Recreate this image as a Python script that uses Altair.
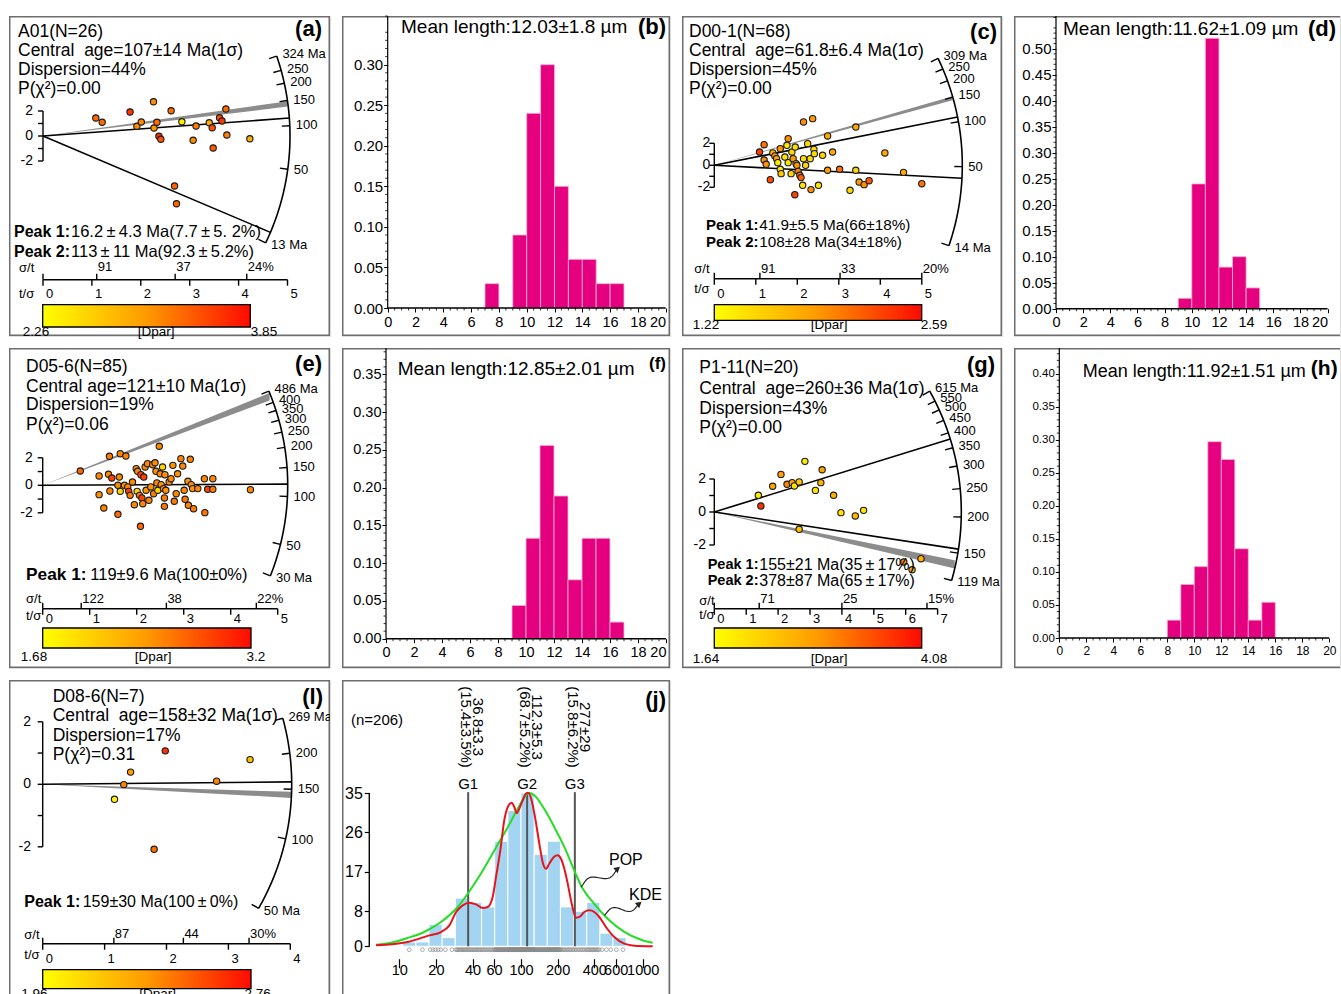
import math
import pandas as pd
import altair as alt

FONT = "Liberation Sans"
BORDER = "#6e6e6e"
ONE = pd.DataFrame({"k": [0]})
CB_RANGE = ["#ffff00", "#ff9a00", "#ff0a00"]
MAGENTA = "#e4007f"
J_BLUE = "#a3d5f2"
TS = "\u2009"   # thin space used around the wide "±" glyphs of the original
NB = "\u00a0"

# ---------------- radial plot data (x = t/sigma, z = standardised estimate, Dpar) -------------
A_X = [1.08, 1.21, 1.78, 2.26, 2.62, 1.92, 2.01, 2.27, 2.33, 2.37, 2.41, 2.84, 3.13, 3.07, 3.40, 3.46,
       3.61, 3.66, 3.74, 3.76, 3.48, 4.23, 2.69, 2.73]
A_Z = [1.44, 1.10, 1.92, 2.74, 2.02, 0.78, 1.12, 0.64, 1.10, -0.02, -0.26, 1.14, 0.80, -0.34, 1.06, 0.66,
       1.46, 1.20, 2.16, 0.08, -0.96, -0.22, -4.0, -5.42]
A_D = [3.45, 3.45, 3.75, 3.15, 3.45, 3.2, 3.2, 3.1, 3.45, 3.75, 3.6, 2.4, 3.3, 3.2, 2.9, 3.6,
       3.6, 3.75, 3.45, 3.3, 3.55, 2.9, 3.5, 3.5]

C_X = [1.09, 1.20, 1.20, 1.25, 1.35, 1.41, 1.46, 1.50, 1.53, 1.59, 1.59, 1.61, 1.70, 1.75, 1.78, 1.78,
       1.85, 1.87, 1.90, 1.95, 1.97, 1.99, 2.02, 2.06, 2.09, 1.94, 2.13, 2.15, 2.15, 2.20, 2.25, 2.31,
       2.33, 2.37, 2.40, 2.41, 2.51, 2.61, 2.73, 2.73, 2.85, 3.02, 3.27, 3.41, 3.41, 3.49, 3.61, 3.73,
       4.11, 4.56, 5.00]
C_Z = [1.21, 1.87, 0.48, 0.09, -1.31, 1.12, 0.85, 0.60, 0.24, 1.51, -0.36, -0.76, 0.75, 1.82, 2.42, 0.24,
       -0.76, 1.21, 0.60, 1.66, 0.15, 0.00, -0.55, -0.91, -1.12, -2.67, -1.82, 3.94, 0.60, 0.00, 1.97, 0.60,
       -2.21, 4.24, 1.45, 1.06, -1.82, 0.91, 2.67, -0.45, 1.21, -0.36, -2.27, 3.48, -0.45, -1.52, -1.76,
       -1.40, 1.12, -0.64, -1.67]
C_D = [2.48, 2.2, 1.97, 1.97, 2.4, 1.7, 1.97, 1.9, 1.36, 1.97, 1.36, 1.6, 1.4, 1.4, 2.0, 1.4,
       1.5, 1.45, 1.9, 1.45, 1.4, 1.97, 2.05, 2.2, 2.3, 2.45, 1.4, 2.0, 1.45, 1.5, 1.5, 1.45,
       2.0, 1.9, 1.45, 1.5, 1.4, 1.5, 1.8, 1.9, 1.8, 2.2, 1.45, 1.8, 1.5, 1.9, 2.0, 2.35,
       1.8, 1.8, 2.2]

E_X = [0.80, 1.20, 1.20, 1.30, 1.42, 1.40, 1.43, 1.47, 1.60, 1.63, 1.60, 1.65, 1.77, 1.65, 1.74, 1.81,
       1.83, 1.86, 1.91, 1.95, 1.99, 2.01, 2.02, 2.06, 2.08, 2.09, 2.11, 2.13, 2.15, 2.18, 2.20, 2.23,
       2.26, 2.30, 2.34, 2.36, 2.39, 2.41, 2.43, 2.45, 2.48, 2.50, 2.52, 2.55, 2.57, 2.59, 2.60, 2.62,
       2.59, 2.69, 2.73, 2.77, 2.80, 2.84, 2.87, 2.94, 2.98, 3.01, 3.03, 3.09, 3.10, 3.14, 3.16, 3.19,
       3.21, 3.30, 3.44, 3.45, 3.51, 3.62, 3.62, 4.42]
E_Z = [1.04, 0.68, -0.68, -1.65, 2.11, 0.80, -0.41, 0.53, -2.11, 0.60, 0.00, 2.30, 2.13, -0.44, 0.00, -0.12,
       -0.44, -0.73, 0.24, -1.41, 1.21, -0.44, 1.02, -0.73, -2.98, 0.77, -0.92, -1.34, 0.60, 1.33, -0.36, 1.57,
       -1.09, -0.12, 1.50, -0.61, 1.64, 1.02, 0.17, -0.36, 2.84, 0.84, 0.05, 1.33, -0.24, -0.92, 0.77, -0.36,
       -1.53, 0.24, 0.48, 1.45, -1.16, -0.61, 0.84, 1.94, 1.40, -0.36, -1.02, 0.29, -1.45, 1.89, 0.05, -0.24,
       -1.70, -0.24, 0.48, -1.99, -0.29, 0.48, -0.29, -0.32]
E_D = [2.85, 2.6, 2.55, 2.6, 2.7, 2.55, 2.65, 3.05, 2.8, 2.6, 2.55, 2.65, 2.6, 2.0, 2.5, 2.6,
       3.05, 2.7, 2.55, 2.6, 2.5, 2.0, 2.6, 2.7, 2.85, 3.05, 3.05, 2.6, 3.05, 2.55, 2.5, 2.6,
       2.65, 2.5, 2.6, 2.7, 2.55, 2.5, 2.6, 2.0, 2.6, 2.55, 2.5, 2.0, 2.6, 2.7, 2.55, 2.5,
       2.75, 2.6, 2.55, 2.5, 2.7, 2.6, 2.5, 2.65, 2.6, 2.55, 2.7, 2.5, 2.6, 2.65, 2.55, 2.5,
       2.7, 2.6, 2.6, 2.75, 3.05, 2.6, 2.7, 2.6]

G_X = [1.38, 1.46, 1.83, 2.09, 2.28, 2.44, 2.51, 2.66, 2.66, 2.84, 3.17, 3.34, 3.38, 3.74, 3.97, 4.42,
       4.68, 5.94, 6.20, 6.48]
G_Z = [1.01, 0.36, 1.56, 2.28, 1.68, 1.78, 1.58, 1.82, -1.05, 3.07, 1.31, 1.78, 2.56, 1.01, -0.04, -0.24,
       0.10, -3.03, -3.50, -2.83]
G_D = [1.9, 3.95, 2.7, 2.8, 3.1, 2.7, 2.0, 2.3, 2.4, 1.95, 2.0, 2.6, 2.7, 2.6, 2.0, 2.5,
       1.95, 3.0, 2.6, 2.6]

L_X = [1.16, 1.31, 1.42, 1.80, 1.98, 2.81, 3.35]
L_Z = [-0.48, -0.01, 0.39, -2.08, 1.07, 0.10, 0.79]
L_D = [2.02, 2.45, 2.35, 2.55, 2.72, 2.45, 2.2]

# ---------------- track length histograms (bin lower edge, frequency) ----------------
B_LO = [7, 9, 10, 11, 12, 13, 14, 15, 16]
B_F = [0.03, 0.09, 0.24, 0.30, 0.15, 0.06, 0.06, 0.03, 0.03]
D_LO = [9, 10, 11, 12, 13, 14]
D_F = [0.02, 0.24, 0.52, 0.08, 0.10, 0.04]
F_LO = [9, 10, 11, 12, 13, 14, 15, 16]
F_F = [0.044, 0.133, 0.256, 0.189, 0.078, 0.133, 0.133, 0.022]
H_LO = [8, 9, 10, 11, 12, 13, 14, 15]
H_F = [0.027, 0.081, 0.108, 0.297, 0.270, 0.135, 0.027, 0.054]
X_TICKS = [0, 2, 4, 6, 8, 10, 12, 14, 16, 18, 20]

# ---------------- (j) age distribution ----------------
J_START = 1.028   # log10 of first bin edge (Ma)
J_BINW = 0.108    # bin width in log10 units
J_COUNTS = [1, 1, 5, 2, 11, 10, 9, 24, 31, 35, 21, 24, 9, 8, 10, 3, 2]
POP_AGE = [6.44, 8.55, 11.7, 16.0, 22.0, 30.2, 36.5, 46.9, 60.4, 77.8, 94.0, 110, 117, 128.5, 155, 188,
           227, 274, 311, 400, 515, 706, 968, 1208]
POP_N = [0.37, 0.83, 1.9, 3.27, 5.55, 8.97, 12.0, 16.6, 21.9, 27.2, 31.4, 34.5, 35.0, 34.5, 31.4, 27.2,
         22.7, 17.3, 13.9, 9.7, 6.3, 3.3, 1.5, 0.83]
KDE_AGE = [6.44, 11.7, 17.7, 22.0, 25.8, 29.3, 33.2, 37.6, 42.7, 48.4, 53.2, 58.5, 62.3, 67.6, 72.9, 79.2,
           83.8, 88.1, 92.1, 96.9, 103.2, 110, 115.6, 122.3, 130.4, 141.5, 150.7, 160.4, 171, 188, 200, 213,
           227, 242, 261, 283, 307, 331, 364, 400, 440, 499, 584, 706, 853, 1208]
KDE_N = [0.22, 0.98, 2.5, 3.26, 4.79, 7.83, 9.35, 9.96, 9.58, 8.74, 8.97, 11.26, 15.8, 21.9, 28.8, 32.2,
         32.8, 31.8, 30.4, 31.4, 33.3, 34.85, 35.0, 33.3, 29.5, 23.4, 19.2, 17.7, 18.9, 20.5, 20.8, 20.0,
         17.7, 14.3, 9.73, 6.54, 6.84, 7.83, 8.21, 7.83, 6.69, 4.41, 2.12, 0.6, 0.14, 0.0]
J_PEAKS = [36.8, 112.3, 277]
J_PEAK_TXT = [("36.8±3.3", "(15.4±3.5%)"), ("112.3±5.3", "(68.7±5.2%)"), ("277±29", "(15.8±6.2%)")]
J_XTICKS = [10, 20, 40, 60, 100, 200, 400, 600, 1000]
J_YTICKS = [0, 8, 17, 26, 35]


def txt(s, x, y, fs, weight="normal", align="left", angle=0, clip=False, color="black"):
    kw = dict(text=s, fontSize=fs, fontWeight=weight, align=align, baseline="middle", font=FONT, color=color)
    if angle:
        kw["angle"] = angle
    if clip:
        kw["clip"] = True
    return alt.Chart(ONE).mark_text(**kw).encode(x=alt.value(x), y=alt.value(y))


def border(W, H, open_right=False, open_bottom=False):
    x2 = W + 8 if open_right else W - 0.75
    y2 = H + 8 if open_bottom else H - 0.75
    return alt.Chart(ONE).mark_rect(fill="transparent", stroke=BORDER, strokeWidth=1.5, clip=True).encode(
        x=alt.value(0.75), x2=alt.value(x2), y=alt.value(0.75), y2=alt.value(y2))


def radial(c):
    W, H = c["W"], c["H"]
    ox, oy = c["origin"]
    kx, ky, t0, R = c["kx"], c["ky"], c["t0"], c["R"]
    clip = c.get("clip", False)
    mk = {"clip": True} if clip else {}
    dx = lambda px: (px - ox) / kx
    dy = lambda py: (oy - py) / ky
    xs = alt.Scale(domain=[dx(0), dx(W)], nice=False, zero=False)
    ys = alt.Scale(domain=[dy(H), dy(0)], nice=False, zero=False)
    X = lambda f="x": alt.X(f + ":Q", scale=xs, axis=None)
    Y = lambda f="y": alt.Y(f + ":Q", scale=ys, axis=None)
    X2 = alt.X2("x2:Q")
    Y2 = alt.Y2("y2:Q")

    def ang(t):
        return math.atan2(math.log(t / t0) * ky, kx)

    def pt(a, r):
        return r * math.cos(a) / kx, r * math.sin(a) / ky

    layers = [border(W, H, False, c.get("open_bottom", False))]

    # grey wedge
    b1, b2 = c["band"]
    xe = min(pt(ang(b1), R)[0], pt(ang(b2), R)[0])
    band = pd.DataFrame({"x": [0.0, xe], "y": [0.0, math.log(b1 / t0) * xe], "y2": [0.0, math.log(b2 / t0) * xe]})
    layers.append(alt.Chart(band).mark_area(color="#8c8c8c", opacity=1, **mk).encode(x=X(), y=Y(), y2=Y2))

    # peak rays
    rows = []
    for i, t in enumerate(c["rays"]):
        ex, ey = pt(ang(t), R)
        rows += [{"id": i, "x": 0.0, "y": 0.0}, {"id": i, "x": ex, "y": ey}]
    layers.append(alt.Chart(pd.DataFrame(rows)).mark_line(color="black", strokeWidth=1.6, **mk).encode(
        x=X(), y=Y(), detail="id:N"))

    # arc
    a0, a1 = ang(c["arc"][0]), ang(c["arc"][1])
    n = 90
    arc = []
    for k in range(n):
        px_, py_ = pt(a0 + (a1 - a0) * k / (n - 1), R)
        arc.append({"i": k, "x": px_, "y": py_})
    layers.append(alt.Chart(pd.DataFrame(arc)).mark_line(color="black", strokeWidth=1.6, **mk).encode(
        x=X(), y=Y(), order="i:Q"))

    # arc ticks and labels
    tk = []
    for t in c["ticks"]:
        a = ang(t)
        x1, y1 = pt(a, R - 8)
        x2, y2 = pt(a, R)
        lx, ly = pt(a, R + 6)
        lab = f"{t} Ma" if t in c["arc"] else str(t)
        tk.append({"x": x1, "y": y1, "x2": x2, "y2": y2, "lx": lx, "ly": ly, "t": lab})
    tdf = pd.DataFrame(tk)
    layers.append(alt.Chart(tdf).mark_rule(color="black", strokeWidth=1.4, **mk).encode(
        x=X(), y=Y(), x2=X2, y2=Y2))
    layers.append(alt.Chart(tdf).mark_text(align="left", baseline="middle", fontSize=13, font=FONT, **mk).encode(
        x=X("lx"), y=Y("ly"), text="t:N"))

    # z bracket
    layers.append(alt.Chart(pd.DataFrame({"x": [0.0], "y": [-2.0], "y2": [2.0]})).mark_rule(
        color="black", strokeWidth=1.4, **mk).encode(x=X(), y=Y(), y2=Y2))
    layers.append(alt.Chart(pd.DataFrame({"x": [0.0] * 5, "x2": [-5 / kx] * 5, "y": [-2, -1, 0, 1, 2]})).mark_rule(
        color="black", strokeWidth=1.4, **mk).encode(x=X(), x2=X2, y=Y()))
    layers.append(alt.Chart(pd.DataFrame({"x": [dx(c["brk_x"])] * 3, "y": [2, 0, -2], "t": ["2", "0", "-2"]})).mark_text(
        align="right", baseline="middle", fontSize=14, font=FONT, **mk).encode(x=X(), y=Y(), text="t:N"))

    # precision scale (t/sigma below, sigma/t above)
    za = dy(c["za"])
    tmax = c["tmax"]
    layers.append(alt.Chart(pd.DataFrame({"x": [0.0], "x2": [float(tmax)], "y": [za]})).mark_rule(
        color="black", strokeWidth=1.6, **mk).encode(x=X(), x2=X2, y=Y()))
    tv = list(range(tmax + 1))
    layers.append(alt.Chart(pd.DataFrame({"x": tv, "y": [za] * len(tv), "y2": [za - 6 / ky] * len(tv)})).mark_rule(
        color="black", strokeWidth=1.4, **mk).encode(x=X(), y=Y(), y2=Y2))
    sv = [0.0] + [100.0 / p for p in c["sig"]]
    layers.append(alt.Chart(pd.DataFrame({"x": sv, "y": [za] * len(sv), "y2": [za + 6 / ky] * len(sv)})).mark_rule(
        color="black", strokeWidth=1.4, **mk).encode(x=X(), y=Y(), y2=Y2))
    layers.append(alt.Chart(pd.DataFrame({"x": [v + 3 / kx for v in tv], "y": [dy(c["lab_t_y"])] * len(tv),
                                          "t": [str(v) for v in tv]})).mark_text(
        align="left", baseline="middle", fontSize=13, font=FONT, **mk).encode(x=X(), y=Y(), text="t:N"))
    slab = [str(p) for p in c["sig"]]
    slab[-1] = slab[-1] + "%"
    layers.append(alt.Chart(pd.DataFrame({"x": [100.0 / p + 1 / kx for p in c["sig"]],
                                          "y": [dy(c["lab_s_y"])] * len(slab), "t": slab})).mark_text(
        align="left", baseline="middle", fontSize=13, font=FONT, **mk).encode(x=X(), y=Y(), text="t:N"))
    layers.append(txt("σ/t", c["name_x"], c["name_s_y"], 13, clip=clip))
    layers.append(txt("t/σ", c["name_x"], c["name_t_y"], 13, clip=clip))

    # Dpar colour bar
    x0, y0, x1, y1 = c["cbar"]
    grad = alt.Gradient(gradient="linear",
                        stops=[alt.GradientStop(color=CB_RANGE[0], offset=0),
                               alt.GradientStop(color=CB_RANGE[1], offset=0.5),
                               alt.GradientStop(color=CB_RANGE[2], offset=1)],
                        x1=0, x2=1, y1=0, y2=0)
    layers.append(alt.Chart(ONE).mark_rect(fill=grad, stroke="black", strokeWidth=1.3, **mk).encode(
        x=alt.value(x0), x2=alt.value(x1), y=alt.value(y0), y2=alt.value(y1)))
    for lx, s in c["cbar_lab"]:
        layers.append(txt(s, lx, c["cbar_lab_y"], 13.5, align="center", clip=clip))

    # grains
    px_, pz_, pd_ = c["pts"]
    d0, d1 = c["dom"]
    pdf = pd.DataFrame({"x": px_, "y": pz_, "d": pd_})
    layers.append(alt.Chart(pdf).mark_point(filled=True, shape="circle", size=40, stroke="#1a1a1a",
                                            strokeWidth=1.1, opacity=1, **mk).encode(
        x=X(), y=Y(),
        fill=alt.Fill("d:Q", scale=alt.Scale(domain=[d0, (d0 + d1) / 2, d1], range=CB_RANGE), legend=None)))

    # texts
    for s, yy in zip(c["head"], c["head_y"]):
        layers.append(txt(s, c["head_x"], yy, c["head_fs"], clip=clip))
    lxp, lyp = c["letter_xy"]
    layers.append(txt(c["letter"], lxp, lyp, c["letter_fs"], weight="bold", align="right", clip=clip))
    for (b, s), yy in zip(c["peaks"], c["peak_y"]):
        layers.append(txt(b, c["peak_x"], yy, c["peak_fs"], weight="bold", clip=clip))
        layers.append(txt(s, c["peak_x2"], yy, c.get("peak_fs2", c["peak_fs"]), clip=clip))
    return alt.layer(*layers).properties(width=W, height=H)


def hist(c):
    W, H, ox, oy, kx, ky = c["W"], c["H"], c["ox"], c["oy"], c["kx"], c["ky"]
    dx = lambda px: (px - ox) / kx
    dy = lambda py: (oy - py) / ky
    xs = alt.Scale(domain=[dx(0), dx(W)], nice=False, zero=False)
    ys = alt.Scale(domain=[dy(H), dy(0)], nice=False, zero=False)
    ax_x = alt.Axis(values=X_TICKS, format="d", orient="bottom", offset=-(H - oy), domain=False, grid=False,
                    tickSize=4, tickColor="black", labelFontSize=c["xfs"], labelPadding=3, labelOverlap=False,
                    labelFlush=c["flush"], labelColor="black", labelFont=FONT, title=None)
    ax_y = alt.Axis(values=c["yt"], format=".2f", orient="left", offset=-ox, domain=False, grid=False,
                    tickSize=4, tickColor="black", labelFontSize=c["yfs"], labelPadding=1, labelOverlap=False,
                    labelColor="black", labelFont=FONT, title=None)
    X = lambda f="x": alt.X(f + ":Q", scale=xs, axis=ax_x)
    Y = lambda f="y": alt.Y(f + ":Q", scale=ys, axis=ax_y)
    df = pd.DataFrame({"lo": c["lo"], "hi": [v + 1 for v in c["lo"]], "y0": 0.0, "f": c["f"]})
    bars = alt.Chart(df).mark_rect(color=MAGENTA, stroke="#f6b3d6", strokeWidth=0.8).encode(
        x=X("lo"), x2="hi:Q", y=Y("y0"), y2="f:Q")
    layers = [border(W, H, open_right=c.get("open_right", False)), bars]
    ytop = dy(0)
    layers.append(alt.Chart(pd.DataFrame({"x": [0.0], "x2": [20.0], "y": [0.0]})).mark_rule(
        color="black", strokeWidth=1.4).encode(x=X(), x2=alt.X2("x2:Q"), y=Y()))
    layers.append(alt.Chart(pd.DataFrame({"x": [0.0], "y": [0.0], "y2": [ytop]})).mark_rule(
        color="black", strokeWidth=1.2).encode(x=X(), y=Y(), y2=alt.Y2("y2:Q")))
    ym = [k / 100 for k in range(0, int(ytop * 100) + 1) if k % 5 != 0]
    layers.append(alt.Chart(pd.DataFrame({"x": [0.0] * len(ym), "x2": [-2.5 / kx] * len(ym), "y": ym})).mark_rule(
        color="black", strokeWidth=0.8).encode(x=X(), x2=alt.X2("x2:Q"), y=Y()))
    xm = [k / 2 for k in range(1, 41) if k % 4 != 0]
    layers.append(alt.Chart(pd.DataFrame({"x": xm, "y": [0.0] * len(xm), "y2": [-2.5 / ky] * len(xm)})).mark_rule(
        color="black", strokeWidth=0.8).encode(x=X(), y=Y(), y2=alt.Y2("y2:Q")))
    tx, ty = c["title_xy"]
    layers.append(txt(c["title"], tx, ty, c["title_fs"]))
    lx, ly = c["letter_xy"]
    layers.append(txt(c["letter"], lx, ly, c["letter_fs"], weight="bold", align="right"))
    return alt.layer(*layers).properties(width=W, height=H)


def panel_j(W=328, H=314):
    ox, oy, kx, ky = 57.3, 266.3, 121.7, 4.38
    dxp = lambda px: 10 ** (1 + (px - ox) / kx)
    dyp = lambda py: (oy - py) / ky
    pxa = lambda age: ox + kx * (math.log10(age) - 1)
    xs = alt.Scale(type="log", domain=[dxp(0), dxp(W)], nice=False)
    ys = alt.Scale(domain=[dyp(H), dyp(0)], nice=False, zero=False)
    ax_x = alt.Axis(values=J_XTICKS, format="d", orient="bottom", offset=-(H - 278.7), domain=False, grid=False,
                    tickSize=9, tickColor="black", tickWidth=1.2, labelFontSize=14.5, labelPadding=-4,
                    labelOverlap=False, labelFlush=False, labelColor="black", labelFont=FONT, title=None)
    ax_y = alt.Axis(values=J_YTICKS, format="d", orient="left", offset=-27.3, domain=False, grid=False,
                    tickSize=5, tickColor="black", tickWidth=1.2, labelFontSize=16, labelPadding=2,
                    labelColor="black", labelFont=FONT, title=None)
    X = lambda f="x": alt.X(f + ":Q", scale=xs, axis=ax_x)
    Y = lambda f="y": alt.Y(f + ":Q", scale=ys, axis=ax_y)
    n = len(J_COUNTS)
    lo = [10 ** (J_START + J_BINW * i) for i in range(n)]
    hi = [10 ** (J_START + J_BINW * (i + 1)) for i in range(n)]
    bdf = pd.DataFrame({"lo": lo, "hi": hi, "y0": 0.0, "n": J_COUNTS})
    layers = [border(W, H, open_bottom=True)]
    layers.append(alt.Chart(bdf).mark_rect(color=J_BLUE, stroke="white", strokeWidth=1, clip=True).encode(
        x=X("lo"), x2="hi:Q", y=Y("y0"), y2="n:Q"))
    # y axis line
    layers.append(alt.Chart(pd.DataFrame({"x": [dxp(27.3)], "y": [0.0], "y2": [35.0]})).mark_rule(
        color="black", strokeWidth=1.4).encode(x=X(), y=Y(), y2=alt.Y2("y2:Q")))
    # rug of single grain ages (spread evenly inside each bin)
    rug = []
    for i, cnt in enumerate(J_COUNTS):
        for k in range(cnt):
            rug.append(10 ** (J_START + J_BINW * (i + (k + 0.5) / cnt)))
    layers.append(alt.Chart(pd.DataFrame({"x": rug, "y": [dyp(269.7)] * len(rug)})).mark_point(
        shape="circle", filled=False, size=14, color="#8a8a8a", strokeWidth=0.7, opacity=1, clip=True).encode(
        x=X(), y=Y()))
    # peak lines
    layers.append(alt.Chart(pd.DataFrame({"x": J_PEAKS, "y": [0.0] * 3, "y2": [35.2] * 3})).mark_rule(
        color="#555555", strokeWidth=2).encode(x=X(), y=Y(), y2=alt.Y2("y2:Q")))
    # curves
    layers.append(alt.Chart(pd.DataFrame({"x": POP_AGE, "y": POP_N})).mark_line(
        color="#25dd25", strokeWidth=2, interpolate="monotone", clip=True).encode(x=X(), y=Y()))
    layers.append(alt.Chart(pd.DataFrame({"x": KDE_AGE, "y": KDE_N})).mark_line(
        color="#e8141c", strokeWidth=2, interpolate="monotone", clip=True).encode(x=X(), y=Y()))

    # squiggly arrows
    def squiggle(s, e, amp=5.0, npts=40):
        (sx, sy), (ex, ey) = s, e
        L = math.hypot(ex - sx, ey - sy)
        ux, uy = (ex - sx) / L, (ey - sy) / L
        nx, ny = uy, -ux
        out = []
        for k in range(npts):
            t = k / (npts - 1)
            w = amp * math.sin(2 * math.pi * t) * math.sin(math.pi * t) ** 0.3
            px_ = sx + t * (ex - sx) + nx * w
            py_ = sy + t * (ey - sy) + ny * w
            out.append({"i": k, "x": dxp(px_), "y": dyp(py_)})
        return out
    arrows = [((239, 207), (275.7, 188.7)), ((262.3, 235.3), (297.3, 223.7))]
    for aid, (s, e) in enumerate(arrows):
        layers.append(alt.Chart(pd.DataFrame(squiggle(s, e))).mark_line(color="#222222", strokeWidth=1.2).encode(
            x=X(), y=Y(), order="i:Q"))
    heads = pd.DataFrame({"x": [dxp(e[0]) for _, e in arrows], "y": [dyp(e[1]) for _, e in arrows]})
    layers.append(alt.Chart(heads).mark_point(shape="triangle-up", filled=True, size=45, color="#222222",
                                              angle=50, opacity=1).encode(x=X(), y=Y()))
    # texts
    layers.append(txt("(n=206)", 9, 40.3, 15))
    layers.append(txt("(j)", 324, 20.3, 22, weight="bold", align="right"))
    for age, g, (l1, l2) in zip(J_PEAKS, ["G1", "G2", "G3"], J_PEAK_TXT):
        gx = pxa(age)
        layers.append(txt(g, gx, 104.3, 15, align="center"))
        layers.append(txt(l1, gx + 10, 47, 15, align="center", angle=90))
        layers.append(txt(l2, gx - 2, 47, 15, align="center", angle=90))
    layers.append(txt("POP", 267, 180.3, 16))
    layers.append(txt("KDE", 287, 215.3, 16))
    return alt.layer(*layers).properties(width=W, height=H)


pa = radial(dict(
    W=321, H=320, origin=(34, 120), kx=48.9, ky=12.5, t0=85, R=247, arc=(13, 324),
    ticks=[13, 50, 100, 150, 200, 250, 324], rays=[16.2, 113], band=(136, 148), brk_x=24,
    za=263.7, tmax=5, sig=[91, 37, 24], lab_t_y=278, lab_s_y=251, name_x=10, name_s_y=252, name_t_y=278,
    cbar=(33.7, 288.7, 241.3, 311), cbar_lab=[(27, "2.26"), (147, "[Dpar]"), (255, "3.85")], cbar_lab_y=315.5,
    dom=(2.26, 3.85), head=["A01(N=26)", f"Central{NB} age=107±14 Ma(1σ)", "Dispersion=44%", "P(χ²)=0.00"],
    head_x=9, head_y=[16, 35.3, 54.3, 73.3], head_fs=17.5, letter="(a)", letter_xy=(313, 13), letter_fs=22,
    peaks=[("Peak 1:", f"16.2{TS}±{TS}4.3 Ma(7.7{TS}±{TS}5. 2%)"), ("Peak 2:", f"113{TS}±{TS}11 Ma(92.3{TS}±{TS}5.2%)")],
    peak_x=5, peak_x2=62, peak_y=[216, 236], peak_fs=16, peak_fs2=16.5, pts=(A_X, A_Z, A_D)))

pc = radial(dict(
    W=320, H=320, origin=(32.3, 149.3), kx=41.5, ky=11, t0=51, R=248, arc=(14, 309),
    ticks=[14, 50, 100, 150, 200, 250, 309], rays=[41.9, 108], band=(143, 152), brk_x=28.3,
    za=262.7, tmax=5, sig=[91, 33, 20], lab_t_y=277.7, lab_s_y=252.7, name_x=12.3, name_s_y=252.7,
    name_t_y=272.7, cbar=(32.3, 288.7, 239.7, 304.3), cbar_lab=[(24, "1.22"), (147, "[Dpar]"), (252, "2.59")],
    cbar_lab_y=309.3, dom=(1.22, 2.59),
    head=["D00-1(N=68)", f"Central{NB} age=61.8±6.4 Ma(1σ)", "Dispersion=45%", "P(χ²)=0.00"],
    head_x=7, head_y=[16, 35, 54, 73], head_fs=17.5, letter="(c)", letter_xy=(315, 16), letter_fs=22,
    peaks=[("Peak 1:", "41.9±5.5 Ma(66±18%)"), ("Peak 2:", "108±28 Ma(34±18%)")],
    peak_x=24, peak_x2=77.3, peak_y=[209.3, 226], peak_fs=15, peak_fs2=15.3, pts=(C_X, C_Z, C_D)))

pe = radial(dict(
    W=321, H=320, origin=(33.7, 137.3), kx=47, ky=13.75, t0=117, R=245, arc=(30, 486),
    ticks=[30, 50, 100, 150, 200, 250, 300, 350, 400, 486], rays=[119], band=(420, 470), brk_x=23.7,
    za=260.7, tmax=5, sig=[122, 38, 22], lab_t_y=270.7, lab_s_y=251.3, name_x=17, name_s_y=251.3,
    name_t_y=268, cbar=(33.7, 280, 242, 300), cbar_lab=[(25, "1.68"), (144, "[Dpar]"), (247, "3.2")],
    cbar_lab_y=309, dom=(1.68, 3.2),
    head=["D05-6(N=85)", "Central age=121±10 Ma(1σ)", "Dispersion=19%", "P(χ²)=0.06"],
    head_x=17, head_y=[19, 39, 57.3, 76.7], head_fs=17.5, letter="(e)", letter_xy=(313, 15.7), letter_fs=22,
    peaks=[("Peak 1:", "119±9.6 Ma(100±0%)")], peak_x=17, peak_x2=81.3, peak_y=[227.3], peak_fs=17.3,
    peak_fs2=16.5, pts=(E_X, E_Z, E_D)))

pg = radial(dict(
    W=320, H=320, origin=(32.3, 164), kx=31.9, ky=16.5, t0=208, R=247, arc=(119, 615),
    ticks=[119, 150, 200, 250, 300, 350, 400, 450, 500, 550, 615], rays=[155, 378], band=(132, 141),
    brk_x=24, za=260.7, tmax=7, sig=[71, 25, 15], lab_t_y=270.7, lab_s_y=251.3, name_x=17.3, name_s_y=253,
    name_t_y=267, cbar=(32.3, 280, 239.7, 300), cbar_lab=[(24, "1.64"), (147, "[Dpar]"), (252, "4.08")],
    cbar_lab_y=310.7, dom=(1.64, 4.08),
    head=["P1-11(N=20)", f"Central{NB} age=260±36 Ma(1σ)", "Dispersion=43%", "P(χ²)=0.00"],
    head_x=17.3, head_y=[20, 40.7, 60.7, 80], head_fs=17.5, letter="(g)", letter_xy=(313, 17.3), letter_fs=22,
    peaks=[("Peak 1:", f"155±21 Ma(35{TS}±{TS}17%)"), ("Peak 2:", f"378±87 Ma(65{TS}±{TS}17%)")],
    peak_x=25.7, peak_x2=77.3, peak_y=[217.3, 233.3], peak_fs=14.5, peak_fs2=16, pts=(G_X, G_Z, G_D)))

pl = radial(dict(
    W=321, H=314, origin=(33.7, 104.3), kx=61.9, ky=31.25, t0=156, R=249, arc=(50, 269),
    ticks=[50, 100, 150, 200, 269], rays=[159], band=(140, 147), brk_x=22,
    za=263.7, tmax=4, sig=[87, 44, 30], lab_t_y=278.7, lab_s_y=253.7, name_x=15.3, name_s_y=255,
    name_t_y=275.3, cbar=(33.7, 289.7, 242, 308.7), cbar_lab=[(25.3, "1.96"), (148.7, "[Dpar]"), (248.7, "2.76")],
    cbar_lab_y=313.7, dom=(1.96, 2.76),
    head=["D08-6(N=7)", f"Central{NB} age=158±32 Ma(1σ)", "Dispersion=17%", "P(χ²)=0.31"],
    head_x=43.7, head_y=[17, 36.3, 56.3, 75.3], head_fs=17.5, letter="(l)", letter_xy=(314, 17), letter_fs=22,
    peaks=[("Peak 1:", f"159±30 Ma(100{TS}±{TS}0%)")], peak_x=15.3, peak_x2=73.7, peak_y=[222], peak_fs=16,
    pts=(L_X, L_Z, L_D), clip=True, open_bottom=True))

pb = hist(dict(W=328, H=320, ox=45.7, oy=292, kx=13.9, ky=811, lo=B_LO, f=B_F,
               yt=[0, 0.05, 0.10, 0.15, 0.20, 0.25, 0.30], xfs=14.5, yfs=15, flush=12,
               title="Mean length:12.03±1.8 µm", title_xy=(59, 11), title_fs=19,
               letter="(b)", letter_xy=(324, 11), letter_fs=22))
pdd = hist(dict(W=326, H=320, ox=42, oy=292.7, kx=13.58, ky=520, lo=D_LO, f=D_F,
                yt=[0, 0.05, 0.10, 0.15, 0.20, 0.25, 0.30, 0.35, 0.40, 0.45, 0.50], xfs=14.5, yfs=15, flush=14,
                title="Mean length:11.62±1.09 µm", title_xy=(49, 12.7), title_fs=19,
                letter="(d)", letter_xy=(322, 12.7), letter_fs=22, open_right=True))
pf = hist(dict(W=328, H=320, ox=44, oy=290.7, kx=14, ky=755, lo=F_LO, f=F_F,
               yt=[0, 0.05, 0.10, 0.15, 0.20, 0.25, 0.30, 0.35], xfs=14.5, yfs=14.5, flush=12,
               title="Mean length:12.85±2.01 µm", title_xy=(55.7, 20.7), title_fs=19,
               letter="(f)", letter_xy=(324, 15.7), letter_fs=17))
ph = hist(dict(W=326, H=320, ox=45.3, oy=290, kx=13.5, ky=661, lo=H_LO, f=H_F,
               yt=[0, 0.05, 0.10, 0.15, 0.20, 0.25, 0.30, 0.35, 0.40], xfs=12, yfs=11.5, flush=4,
               title="Mean length:11.92±1.51 µm", title_xy=(68.7, 24), title_fs=18,
               letter="(h)", letter_xy=(323.7, 20.7), letter_fs=21, open_right=True))
pj = panel_j()

chart = (alt.concat(pa, pb, pc, pdd, pe, pf, pg, ph, pl, pj, columns=4, spacing=12, bounds="flush")
         .resolve_scale(x="independent", y="independent", fill="independent")
         .properties(padding={"left": 8, "top": 14, "right": 0, "bottom": 0}, background="white")
         .configure_view(stroke="transparent")
         .configure(font=FONT))

chart.save("out.html", embed_options={"renderer": "svg", "actions": False})
